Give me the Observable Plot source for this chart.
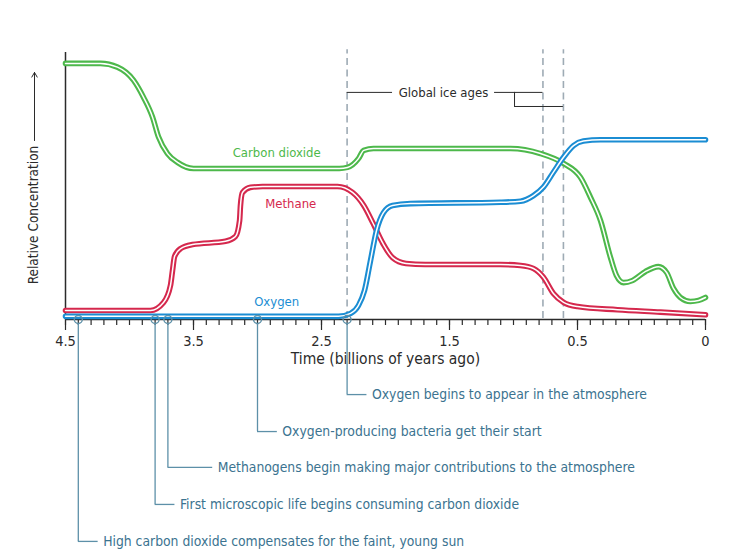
<!DOCTYPE html>
<html><head><meta charset="utf-8">
<script src="https://cdn.jsdelivr.net/npm/d3@7"></script>
<script src="https://cdn.jsdelivr.net/npm/@observablehq/plot@0.6"></script>
<style>
html,body{margin:0;padding:0;background:#fff;}
#chart svg{font-family:"DejaVu Sans Condensed","DejaVu Sans",sans-serif;}
</style></head><body><div id="chart"></div>
<script>
// Time in billions of years ago; values are relative concentration (0-100, unitless)
const co2Time  = [4.5, 4.227, 4.094, 3.969, 3.891, 3.82, 3.773, 3.703, 3.625, 3.5, 2.36, 2.297, 2.21, 2.17, 2.094, 1.023, 0.789, 0.609, 0.488, 0.449, 0.41, 0.371, 0.348, 0.32, 0.285, 0.234, 0.184, 0.152, 0.125, 0.098, 0.059, 0.027, 0];
const co2Value = [95.9, 95.9, 94.5, 89.6, 83.2, 75.7, 68.2, 62.0, 58.7, 56.4, 56.4, 56.8, 60.2, 63.2, 63.9, 63.9, 62.0, 58.3, 53.0, 45.5, 36.8, 22.9, 16.2, 13.5, 14.3, 17.7, 19.5, 17.3, 11.3, 7.9, 6.4, 6.8, 7.9];

const ch4Time  = [4.5, 3.836, 3.734, 3.68, 3.664, 3.648, 3.6, 3.508, 3.25, 3.172, 3.14, 3.133, 3.117, 3.055, 2.96, 2.375, 2.258, 2.17, 2.10, 2.02, 1.945, 1.84, 1.69, 1.102, 0.945, 0.844, 0.766, 0.688, 0.609, 0.5, 0.344, 0.176, 0];
const ch4Value = [3.0, 3.0, 6.0, 12.4, 18.0, 23.3, 26.3, 27.8, 29.0, 30.8, 36.8, 42.5, 47.4, 49.3, 49.6, 49.6, 47.4, 42.5, 36.1, 28.2, 22.9, 20.7, 20.3, 20.3, 19.9, 18.8, 15.5, 9.4, 6.1, 4.5, 3.3, 2.4, 1.4];

const o2Time  = [4.5, 2.367, 2.273, 2.211, 2.164, 2.117, 2.07, 2.016, 1.945, 1.805, 1.102, 0.945, 0.844, 0.766, 0.688, 0.609, 0.531, 0.477, 0.41, 0];
const o2Value = [0.8, 0.8, 1.9, 4.9, 10.5, 21.8, 33.1, 39.8, 42.5, 43.2, 43.7, 44.1, 46.2, 49.4, 55.0, 60.6, 65.0, 66.7, 67.2, 67.2];

const seriesNames  = ["Carbon dioxide", "Methane", "Oxygen"];
const seriesColors = ["#4db84b", "#d5284d", "#1b8dd3"];
const labelTime  = [2.85, 2.74, 2.85];
const labelValue = [62.4, 43.1, 6.1];

const eventTime = [4.4, 3.8, 3.7, 3.0, 2.3];
const eventRow  = [-83.8, -69.9, -56.0, -42.5, -28.6];
const eventLead = [0.155, 0.155, 0.35, 0.155, 0.155];
const eventText = [
  "High carbon dioxide compensates for the faint, young sun",
  "First microscopic life begins consuming carbon dioxide",
  "Methanogens begin making major contributions to the atmosphere",
  "Oxygen-producing bacteria get their start",
  "Oxygen begins to appear in the atmosphere"
];

const iceAgeTime = [2.3, 0.77, 0.61];
const iceLabel = "Global ice ages";
const iceLabelTime = 1.547, iceLabelValue = 85.0;
const iceLineLeftEnd = 1.945, iceLineRightStart = 1.148, iceBracketTime = 0.992, iceBracketValue = 79.7;

const majorTicks = [4.5, 3.5, 2.5, 1.5, 0.5, 0];
const majorTickLabels = ["4.5", "3.5", "2.5", "1.5", "0.5", "0"];
const minorTicks = d3.range(45, 5, -1).map(d => d / 10).concat(d3.range(10, -1, -1).map(d => d / 20));

const xTitle = "Time (billions of years ago)";
const yTitle = "Relative Concentration";

const seriesData = [
  co2Time.map((t, i) => ({t, v: co2Value[i]})),
  ch4Time.map((t, i) => ({t, v: ch4Value[i]})),
  o2Time.map((t, i) => ({t, v: o2Value[i]}))
];
const events = eventTime.map((t, i) => ({t, row: eventRow[i], end: t - eventLead[i], label: eventText[i]}));
const labels = seriesNames.map((name, i) => ({name, t: labelTime[i], v: labelValue[i], color: seriesColors[i]}));

const ink = "#2b2b2b";
const noteColor = "#3b7390";
const connectorColor = "#5d90a8";

const lineMarks = [];
seriesData.forEach((data, i) => {
  lineMarks.push(Plot.line(data, {x: "t", y: "v", curve: "monotone-x", stroke: seriesColors[i], strokeWidth: 5.6, strokeLinecap: "round", strokeLinejoin: "round"}));
  lineMarks.push(Plot.line(data, {x: "t", y: "v", curve: "monotone-x", stroke: "white", strokeWidth: 1.5, strokeLinecap: "round", strokeLinejoin: "round"}));
});

const chart = Plot.plot({
  width: 741,
  height: 559,
  marginLeft: 65,
  marginRight: 36,
  marginTop: 52,
  marginBottom: 240,
  style: {fontFamily: '"DejaVu Sans Condensed","DejaVu Sans",sans-serif', fontSize: "13px", color: ink, background: "white"},
  x: {type: "linear", domain: [4.5, 0.5, 0], range: [65, 577, 705]},
  y: {domain: [0, 100], range: [318, 52], axis: null},
  marks: [
    // ice age dashed lines
    Plot.ruleX(iceAgeTime, {y1: 0, y2: 101, stroke: "#9eabb5", strokeWidth: 1.6, strokeDasharray: "7,4.5"}),
    // ice age annotation
    Plot.ruleY([iceLabelValue], {x1: iceAgeTime[0], x2: iceLineLeftEnd, stroke: ink, strokeWidth: 1}),
    Plot.ruleY([iceLabelValue], {x1: iceLineRightStart, x2: iceAgeTime[1], stroke: ink, strokeWidth: 1}),
    Plot.ruleX([iceBracketTime], {y1: iceLabelValue, y2: iceBracketValue, stroke: ink, strokeWidth: 1}),
    Plot.ruleY([iceBracketValue], {x1: iceBracketTime, x2: iceAgeTime[2], stroke: ink, strokeWidth: 1}),
    Plot.text([iceLabel], {x: iceLabelTime, y: iceLabelValue, fill: ink, fontSize: 13}),
    // axes
    Plot.ruleX([4.5], {y1: 0, y2: 100, stroke: ink, strokeWidth: 1.5}),
    Plot.ruleY([0], {dy: 1, stroke: ink, strokeWidth: 1.5}),
    Plot.axisX({ticks: minorTicks, tickSize: 6, tickFormat: () => "", label: null, stroke: ink, strokeWidth: 1.2}),
    Plot.axisX({ticks: majorTicks, tickSize: 11, tickPadding: 5, tickFormat: d => majorTickLabels[majorTicks.indexOf(d)], label: null, stroke: ink, strokeWidth: 1.2, fontSize: 14.5, fill: ink}),
    Plot.text([xTitle], {x: 2.0, frameAnchor: "bottom", dy: 44, fill: ink, fontSize: 15.5}),
    Plot.text([yTitle], {x: 4.5, dx: -32, y: 38.9, rotate: -90, fill: ink, fontSize: 13.5}),
    Plot.arrow([0], {x1: 4.5, x2: 4.5, dx: -31, y1: 66.9, y2: 92.5, stroke: ink, strokeWidth: 1, headLength: 8}),
    // events
    Plot.ruleX(events, {x: "t", y1: -1.9, y2: "row", stroke: connectorColor, strokeWidth: 1.3}),
    Plot.ruleY(events, {y: "row", x1: "t", x2: "end", stroke: connectorColor, strokeWidth: 1.3}),
    Plot.text(events, {x: "end", y: "row", text: "label", textAnchor: "start", dx: 5, fill: noteColor, fontSize: 13.8}),
    // concentration lines
    ...lineMarks,
    Plot.dot(events, {x: "t", y: 0, dy: 1, r: 4, stroke: connectorColor, strokeWidth: 1.4, fill: "none"}),
    // series labels
    Plot.text(labels, {x: "t", y: "v", text: "name", fill: "color", fontSize: 13, fontWeight: 500})
  ]
});
document.getElementById("chart").appendChild(chart);
</script>
</body></html>
